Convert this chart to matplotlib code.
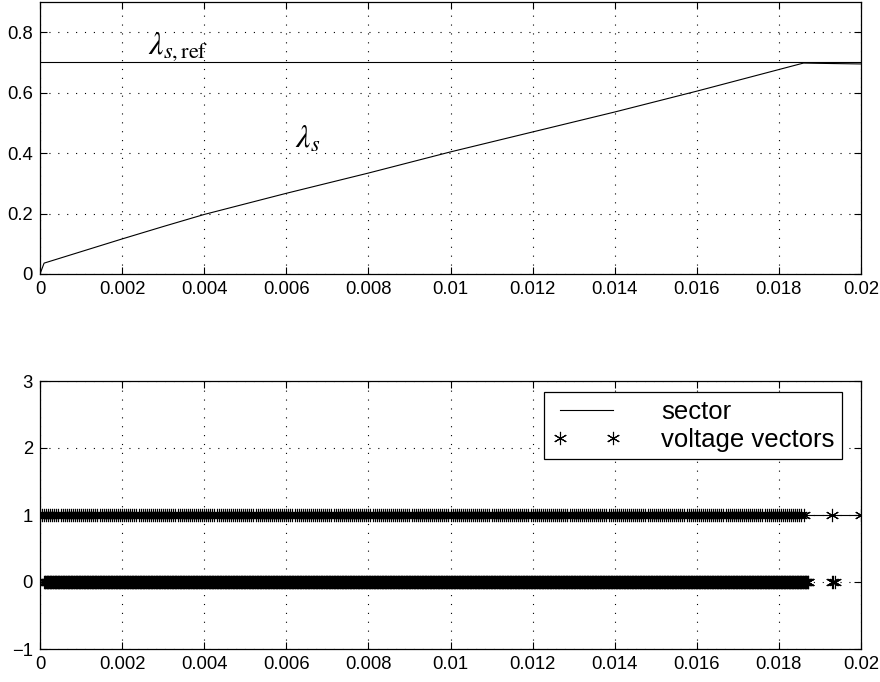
import numpy as np
import matplotlib
matplotlib.use("Agg")
import matplotlib.pyplot as plt
from matplotlib.ticker import FixedLocator, FixedFormatter

plt.rcParams['font.family'] = ['Liberation Sans', 'DejaVu Sans']
plt.rcParams['mathtext.fontset'] = 'stix'

# ---------------- data ----------------
# top panel: stator flux magnitude
flux_t = [0.0, 0.0001, 0.002, 0.003, 0.004, 0.006, 0.008, 0.010, 0.012,
          0.014, 0.016, 0.0186, 0.0190, 0.0200]
flux_v = [0.0, 0.036, 0.116, 0.157, 0.197, 0.267, 0.334, 0.404, 0.470,
          0.536, 0.605, 0.698, 0.697, 0.695]
flux_ref = 0.7
ref_t = [0.0, 0.02]

# bottom panel: sector and voltage vectors
sector_t = [0.0, 0.02]
sector_v = [1, 1]

# voltage vectors, run-length encoded: (start, end, sample step, level)
vector_runs = [
    (0.0000, 0.01862, 5e-5, 1),
    (0.0001, 0.01872, 1.5e-5, 0),
]
# isolated voltage-vector samples after the dense region
vector_extra_t = [0.01929, 0.02000, 0.01929, 0.01933, 0.01937]
vector_extra_v = [1, 1, 0, 0, 0]

xticks = [0, 0.002, 0.004, 0.006, 0.008, 0.01, 0.012, 0.014, 0.016, 0.018, 0.02]
xticklabels = ['0', '0.002', '0.004', '0.006', '0.008', '0.01', '0.012',
               '0.014', '0.016', '0.018', '0.02']
top_yticks = [0, 0.2, 0.4, 0.6, 0.8]
top_yticklabels = ['0', '0.2', '0.4', '0.6', '0.8']
bot_yticks = [-1, 0, 1, 2, 3]
bot_yticklabels = ['\u22121', '0', '1', '2', '3']

# build the voltage vector samples
vec_t = []
vec_v = []
for start, end, step, lvl in vector_runs:
    tt = np.arange(start, end, step)
    vec_t.extend(tt.tolist())
    vec_v.extend([lvl] * len(tt))
vec_t.extend(vector_extra_t)
vec_v.extend(vector_extra_v)

# ---------------- figure ----------------
fig = plt.figure(figsize=(8.8, 6.82), dpi=100)
W, H = 880, 682
ax1 = fig.add_axes([40 / W, 1 - 274 / H, 821 / W, 272 / H])
ax2 = fig.add_axes([40 / W, 1 - 649 / H, 821 / W, 268 / H])

grid_kw = dict(color='black', linestyle=(0, (1, 7)), linewidth=0.8)
tick_fs = 13.3

for ax in (ax1, ax2):
    ax.set_xlim(0, 0.02)
    ax.xaxis.set_major_locator(FixedLocator(xticks))
    ax.xaxis.set_major_formatter(FixedFormatter(xticklabels))
    ax.tick_params(direction='in', top=True, right=True, length=5,
                   width=0.8, labelsize=tick_fs, pad=5)
    ax.grid(True, **grid_kw)
    for s in ax.spines.values():
        s.set_linewidth(0.9)

# top panel
ax1.plot(ref_t, [flux_ref, flux_ref], color='black', linewidth=0.8)
ax1.plot(flux_t, flux_v, color='black', linewidth=0.8)
ax1.set_ylim(0, 0.9)
ax1.yaxis.set_major_locator(FixedLocator(top_yticks))
ax1.yaxis.set_major_formatter(FixedFormatter(top_yticklabels))
ax1.text(0.00262, 0.73, r'$\lambda_{s,\mathrm{ref}}$', fontsize=23,
         ha='left', va='baseline')
ax1.text(0.00622, 0.416, r'$\lambda_{s}$', fontsize=23,
         ha='left', va='baseline')

# bottom panel
ax2.plot(sector_t, sector_v, color='black', linewidth=0.8, label='sector')
ax2.plot(vec_t, vec_v, linestyle='none', marker=(6, 2, 0), markersize=9.5,
         markeredgewidth=0.8, color='black', label='voltage vectors')
ax2.set_ylim(-1, 3)
ax2.yaxis.set_major_locator(FixedLocator(bot_yticks))
ax2.yaxis.set_major_formatter(FixedFormatter(bot_yticklabels))

leg = ax2.legend(loc='upper right', bbox_to_anchor=(0.977, 0.959),
                 fontsize=18.5, frameon=True, fancybox=False, framealpha=1,
                 edgecolor='black', handlelength=2.7, handletextpad=1.55,
                 borderpad=0.3, labelspacing=0.15, numpoints=2,
                 borderaxespad=0)
leg.get_frame().set_linewidth(0.9)

fig.savefig('out.png', dpi=100)
